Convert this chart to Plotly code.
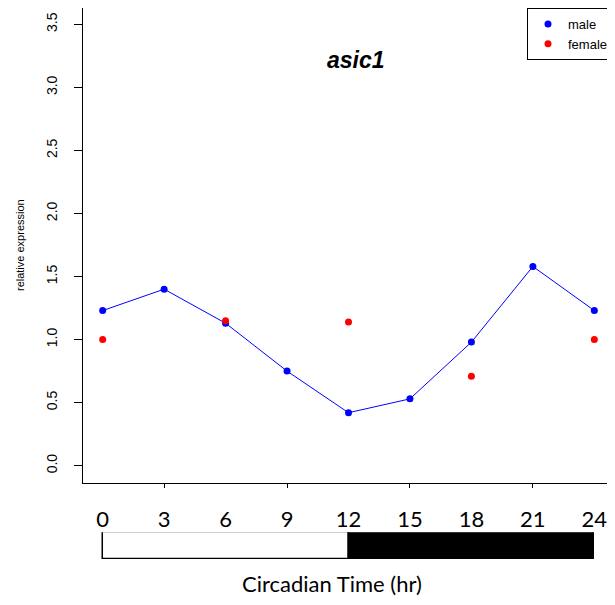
import plotly.graph_objects as go

# ---- data ----
time_male = [0, 3, 6, 9, 12, 15, 18, 21, 24]
male = [1.23, 1.40, 1.13, 0.75, 0.42, 0.53, 0.98, 1.58, 1.23]
time_female = [0, 6, 12, 18, 24]
female = [1.00, 1.15, 1.14, 0.71, 1.00]

y_ticks = [0.0, 0.5, 1.0, 1.5, 2.0, 2.5, 3.0, 3.5]
x_minor_ticks = [3, 9, 15, 21]
time_labels = [0, 3, 6, 9, 12, 15, 18, 21, 24]

phase_start = [0, 12]
phase_length = [12, 12]
phase_color = ["white", "black"]

FONT = "Liberation Sans, Arial, sans-serif"
FONT2 = "Lato, Open Sans, sans-serif"

fig = go.Figure()

# male connecting line (no legend entry)
fig.add_trace(go.Scatter(
    x=time_male, y=male, mode="lines", name="male",
    line=dict(color="blue", width=1), showlegend=False,
    legendgroup="male", hoverinfo="skip",
    xaxis="x", yaxis="y",
))
fig.add_trace(go.Scatter(
    x=time_male, y=male, mode="markers", name="male",
    marker=dict(color="blue", size=7), legendgroup="male",
    xaxis="x", yaxis="y",
))
fig.add_trace(go.Scatter(
    x=time_female, y=female, mode="markers", name="female",
    marker=dict(color="red", size=7),
    xaxis="x", yaxis="y",
))

# light/dark bar
fig.add_trace(go.Bar(
    x=phase_length, base=phase_start, y=["ld", "ld"], orientation="h",
    marker=dict(color=phase_color, line=dict(color="black", width=1.5)),
    width=1, showlegend=False, hoverinfo="skip",
    xaxis="x2", yaxis="y2",
))

fig.update_layout(
    width=607, height=589,
    margin=dict(l=75, r=1, t=0, b=0),
    paper_bgcolor="white", plot_bgcolor="white",
    font=dict(family=FONT, color="black", size=12),
    showlegend=True,
    legend=dict(
        x=1, y=1, xanchor="right", yanchor="top",
        bordercolor="black", borderwidth=1, bgcolor="white",
        font=dict(family=FONT, size=13, color="black"),
        itemwidth=30, tracegroupgap=0,
    ),
    xaxis=dict(
        domain=[0, 1], anchor="y",
        range=[-0.96, 24.96],
        tickvals=x_minor_ticks, showticklabels=False,
        ticks="outside", ticklen=4, tickcolor="black",
        showline=True, linecolor="black", linewidth=1, mirror=True,
        showgrid=False, zeroline=False,
    ),
    yaxis=dict(
        domain=[0.1930, 1], anchor="x",
        range=[-0.14, 3.63],
        tickvals=y_ticks, ticktext=[f"{v:.1f}" for v in y_ticks],
        tickangle=-90,
        ticks="outside", ticklen=8, tickcolor="black",
        tickfont=dict(family=FONT, size=14, color="black"),
        ticklabelstandoff=11,
        showline=True, linecolor="black", linewidth=1, mirror=True,
        showgrid=False, zeroline=False,
    ),
    xaxis2=dict(
        domain=[0, 1], anchor="y2", matches="x",
        side="top",
        tickvals=time_labels, ticktext=[str(t) for t in time_labels],
        ticks="", showline=False, showgrid=False, zeroline=False,
        tickfont=dict(family=FONT2, size=22, color="black"),
        ticklabelstandoff=0,
    ),
    yaxis2=dict(
        domain=[0.0645, 0.1098], anchor="x2",
        range=[-0.5, 0.5], visible=False,
    ),
    bargap=0,
)

fig.add_annotation(
    text="<b><i>asic1</i></b>", xref="paper", yref="paper",
    x=0.514, y=0.9117, xanchor="center", yanchor="middle",
    showarrow=False, font=dict(family=FONT, size=23, color="black"),
)
fig.add_annotation(
    text="relative expression", xref="paper", yref="paper",
    x=-0.1186, y=0.5976, xanchor="center", yanchor="middle",
    textangle=-90, showarrow=False,
    font=dict(family=FONT, size=11, color="black"),
)
fig.add_annotation(
    text="Circadian Time (hr)", xref="paper", yref="paper",
    x=0.468, y=0.0225, xanchor="center", yanchor="middle",
    showarrow=False, font=dict(family=FONT2, size=22, color="black"),
)

fig.write_html("out.html")
